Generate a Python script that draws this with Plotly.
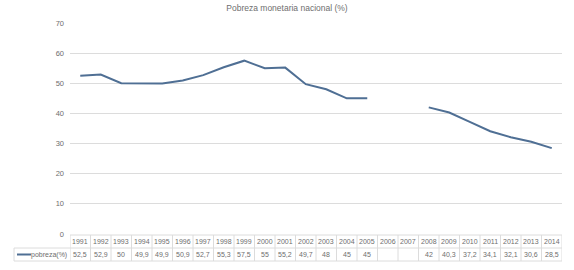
import plotly.graph_objects as go

years = [str(y) for y in range(1991, 2015)]
pobreza = [52.5, 52.9, 50, 49.9, 49.9, 50.9, 52.7, 55.3, 57.5, 55, 55.2, 49.7, 48, 45, 45,
           None, None, 42, 40.3, 37.2, 34.1, 32.1, 30.6, 28.5]
series_name = "pobreza(%)"
title = "Pobreza monetaria nacional (%)"

W, H = 574, 270
L, R, T, B = 70, 12, 23, 36
PW, PH = W - L - R, H - T - B

def py(Y):  # page pixel y -> paper y
    return (H - B - Y) / PH

def px(X):  # page pixel x -> paper x
    return (X - L) / PW

LINE_COLOR = "#4f6f94"
GRID = "#dcdcdc"
TXT = "#6e6e6e"
FONT = "Liberation Sans"

fig = go.Figure()
fig.add_trace(go.Scatter(x=years, y=pobreza, mode="lines", connectgaps=False,
                         line=dict(color=LINE_COLOR, width=2), showlegend=False,
                         hoverinfo="x+y"))

fig.update_layout(
    width=W, height=H, margin=dict(l=L, r=R, t=T, b=B),
    paper_bgcolor="white", plot_bgcolor="white",
    title=dict(text=title, x=0.5, xanchor="center", y=1 - 8.5 / H, yanchor="middle",
               font=dict(family=FONT, size=8.5, color=TXT)),
    xaxis=dict(type="category", range=[-0.5, len(years) - 0.5], showticklabels=False,
               showgrid=False, zeroline=False, showline=False, ticks=""),
    yaxis=dict(range=[0, 70], dtick=10, showgrid=True, gridcolor=GRID, gridwidth=1,
               zeroline=False, showline=False, ticks="",
               tickfont=dict(family=FONT, size=7.5, color=TXT), ticklabelstandoff=5),
)

shapes = []
annotations = []
y_top, y_mid, y_bot = 235, 248, 261
line_style = dict(color=GRID, width=1)
n = len(years)
shapes.append(dict(type="line", xref="x", yref="paper", x0=-0.5, x1=n - 0.5,
                   y0=py(y_top), y1=py(y_top), line=line_style))
for Y in (y_mid, y_bot):
    shapes.append(dict(type="line", xref="paper", yref="paper", x0=px(14), x1=1,
                       y0=py(Y), y1=py(Y), line=line_style))
for i in range(n + 1):
    shapes.append(dict(type="line", xref="x", yref="paper", x0=i - 0.5, x1=i - 0.5,
                       y0=py(y_top), y1=py(y_bot), line=line_style))
shapes.append(dict(type="line", xref="paper", yref="paper", x0=px(14), x1=px(14),
                   y0=py(y_mid), y1=py(y_bot), line=line_style))
shapes.append(dict(type="line", xref="paper", yref="paper", x0=px(17), x1=px(31),
                   y0=py(254.5), y1=py(254.5), line=dict(color=LINE_COLOR, width=2)))
annotations.append(dict(text=series_name, xref="paper", yref="paper", x=px(69), y=py(254.5),
                        xanchor="right", yanchor="middle", showarrow=False,
                        font=dict(family=FONT, size=7, color=TXT)))

for i, (yr, v) in enumerate(zip(years, pobreza)):
    annotations.append(dict(text=yr, xref="x", yref="paper", x=i, y=py(241.5),
                            xanchor="center", yanchor="middle", showarrow=False,
                            font=dict(family=FONT, size=7, color=TXT)))
    if v is not None:
        s = ("%g" % v).replace(".", ",")
        annotations.append(dict(text=s, xref="x", yref="paper", x=i, y=py(254.5),
                                xanchor="center", yanchor="middle", showarrow=False,
                                font=dict(family=FONT, size=7, color=TXT)))

fig.update_layout(shapes=shapes, annotations=annotations)
fig.write_html("out.html", config={"displayModeBar": False},
               post_script="document.body.style.margin='0';")
